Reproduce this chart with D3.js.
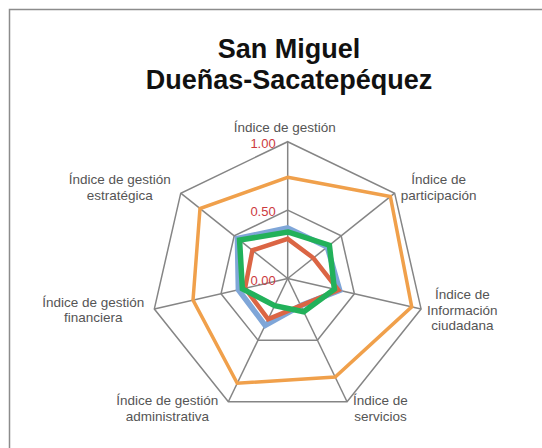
<!DOCTYPE html>
<html>
<head>
<meta charset="utf-8">
<script src="https://cdn.jsdelivr.net/npm/d3@7"></script>
<style>
  body { margin: 0; background: #fff; }
  svg { display: block; font-family: "Liberation Sans", Arial, sans-serif; }
</style>
</head>
<body>
<div id="chart"></div>
<script>
// axis labels (clockwise from top), each split in lines
var categories = [
  ["Índice de gestión"],
  ["Índice de", "participación"],
  ["Índice de", "Información", "ciudadana"],
  ["Índice de", "servicios"],
  ["Índice de gestión", "administrativa"],
  ["Índice de gestión", "financiera"],
  ["Índice de gestión", "estratégica"]
];
var tickValues = [0, 0.5, 1];

var orangeValues = [0.74, 0.96, 0.93, 0.80, 0.85, 0.71, 0.82];
var blueValues   = [0.37, 0.37, 0.39, 0.22, 0.38, 0.37, 0.47];
var redValues    = [0.29, 0.24, 0.38, 0.22, 0.33, 0.32, 0.33];
var greenValues  = [0.34, 0.39, 0.35, 0.27, 0.22, 0.34, 0.45];

var series = [
  { values: blueValues,   color: "#7fa6d8", width: 5.5 },
  { values: orangeValues, color: "#f0a04b", width: 3.5 },
  { values: redValues,    color: "#db6544", width: 4.5 },
  { values: greenValues,  color: "#22b15a", width: 5.5 }
];

var width = 542,
    height = 448,
    cx = 287.7,
    cy = 278.5,
    radius = 136.8;

var svg = d3.select("#chart")
  .append("svg")
  .attr("width", width)
  .attr("height", height);

// outer frame
svg.append("rect")
  .attr("x", 9.5).attr("y", 9.5)
  .attr("width", 560).attr("height", 460)
  .attr("fill", "none")
  .attr("stroke", "#8c8c8c")
  .attr("stroke-width", 1.5);

svg.append("text")
  .attr("x", 289).attr("y", 58)
  .attr("text-anchor", "middle")
  .style("font-size", "27px").style("font-weight", "bold")
  .style("fill", "#111")
  .text("San Miguel");
svg.append("text")
  .attr("x", 289).attr("y", 89)
  .attr("text-anchor", "middle")
  .style("font-size", "27px").style("font-weight", "bold")
  .style("fill", "#111")
  .text("Dueñas-Sacatepéquez");

var n = categories.length;
var angle = d3.scaleLinear().domain([0, n]).range([0, 2 * Math.PI]);
var r = d3.scaleLinear().domain([0, 1]).range([0, radius]);

function pt(i, v) {
  var a = angle(i);
  return [cx + r(v) * Math.sin(a), cy - r(v) * Math.cos(a)];
}

var g = svg.append("g");

// rings
var ringLine = d3.line();
tickValues.filter(function(t) { return t > 0; }).forEach(function(t) {
  var pts = d3.range(n).map(function(i) { return pt(i, t); });
  g.append("path")
    .attr("d", ringLine(pts) + "Z")
    .attr("fill", "none")
    .attr("stroke", "#858585")
    .attr("stroke-width", 1.5);
});

// spokes
g.selectAll(".spoke")
  .data(d3.range(n))
  .enter().append("line")
  .attr("class", "spoke")
  .attr("x1", cx).attr("y1", cy)
  .attr("x2", function(i) { return pt(i, 1)[0]; })
  .attr("y2", function(i) { return pt(i, 1)[1]; })
  .attr("stroke", "#858585")
  .attr("stroke-width", 1.5);

// series
var radarLine = d3.lineRadial()
  .angle(function(d, i) { return angle(i); })
  .radius(function(d) { return r(d); })
  .curve(d3.curveLinearClosed);

series.forEach(function(s) {
  g.append("path")
    .attr("transform", "translate(" + cx + "," + cy + ")")
    .attr("d", radarLine(s.values))
    .attr("fill", "none")
    .attr("stroke", s.color)
    .attr("stroke-width", s.width)
    .attr("stroke-linejoin", "miter");
});

// tick labels
g.selectAll(".tick")
  .data(tickValues)
  .enter().append("text")
  .attr("x", cx - 12)
  .attr("y", function(d) { return cy - r(d) + 6; })
  .attr("text-anchor", "end")
  .style("font-size", "13px")
  .style("fill", "#cc3a3e")
  .text(function(d) { return d3.format(".2f")(d); });

// category labels
var lineH = 15.7;
categories.forEach(function(lines, i) {
  var a = angle(i), s = Math.sin(a), c = Math.cos(a);
  var v = pt(i, 1);
  var t = svg.append("text")
    .style("font-size", "13.5px")
    .style("fill", "#555")
    .attr("text-anchor", "middle");
  lines.forEach(function(l) { t.append("tspan").text(l); });
  var w = d3.max(t.selectAll("tspan").nodes(), function(nd) { return nd.getComputedTextLength(); });
  var x;
  if (s > 0.1) x = v[0] + 6 + w / 2;
  else if (s < -0.1) x = v[0] - 10 - w / 2;
  else x = v[0] - 3;
  var blockH = lines.length * lineH;
  var midY;
  if (Math.abs(s) < 0.1) midY = v[1] - 14;
  else midY = v[1] - c * 8;
  var firstBase = midY - blockH / 2 + lineH * 0.75;
  t.selectAll("tspan")
    .attr("x", x)
    .attr("y", function(d, j) { return firstBase + j * lineH; });
});
</script>
</body>
</html>
